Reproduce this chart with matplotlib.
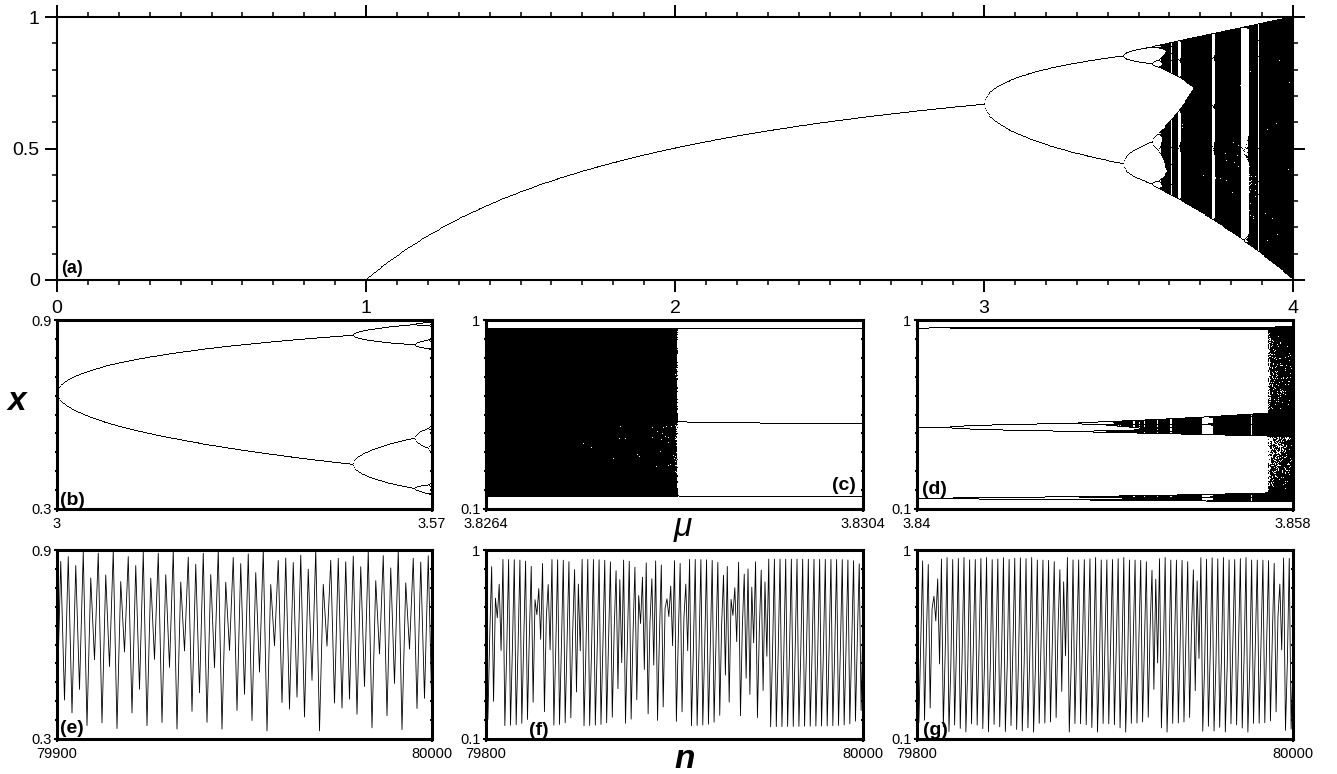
import numpy as np
import matplotlib.pyplot as plt
from matplotlib.ticker import MultipleLocator, FixedLocator

plt.rcParams['font.family'] = ['Liberation Sans', 'DejaVu Sans']

# logistic map x -> mu*x*(1-x); parameter windows
mu_a = [0.0, 4.0]
mu_b = [3.0, 3.57]
mu_c = [3.8264, 3.8304]
mu_d = [3.84, 3.858]
x_a = [0.0, 1.0]
x_b = [0.3, 0.9]
x_c = [0.1, 1.0]
x_d = [0.1, 1.0]

# time series panels: mu value and iterate window
mu_e, n_e, x_e = 3.6, [79900, 80000], [0.3, 0.9]
mu_f, n_f, x_f = 3.828, [79800, 80000], [0.1, 1.0]
mu_g, n_g, x_g = 3.857, [79800, 80000], [0.1, 1.0]

xticks_a = [0, 1, 2, 3, 4]
xlabels_a = ["0", "1", "2", "3", "4"]
yticks_a = [0, 0.5, 1]
ylabels_a = ["0", "0.5", "1"]

xlabels_b = ["3", "3.57"]
xlabels_c = ["3.8264", "3.8304"]
xlabels_d = ["3.84", "3.858"]
ylabels_b = ["0.3", "0.9"]
ylabels_c = ["0.1", "1"]
ylabels_d = ["0.1", "1"]
xlabels_e = ["79900", "80000"]
xlabels_f = ["79800", "80000"]
xlabels_g = ["79800", "80000"]
ylabels_e = ["0.3", "0.9"]
ylabels_f = ["0.1", "1"]
ylabels_g = ["0.1", "1"]


def bifurcation(mu_lim, n_mu, n_skip, n_keep):
    mu = np.linspace(mu_lim[0], mu_lim[1], n_mu)
    x = np.full(n_mu, 0.3)
    for _ in range(n_skip):
        x = mu * x * (1 - x)
    out = np.empty((n_keep, n_mu))
    for i in range(n_keep):
        x = mu * x * (1 - x)
        out[i] = x
    return np.tile(mu, n_keep), out.ravel()


def series(mu, n_lim):
    x = 0.3
    n_vals, x_vals = [], []
    for n in range(n_lim[1] + 1):
        if n >= n_lim[0]:
            n_vals.append(n)
            x_vals.append(x)
        x = mu * x * (1 - x)
    return n_vals, x_vals


W, H = 1337, 774
fig = plt.figure(figsize=(W / 100, H / 100), dpi=100)


def box(l, t, r, b):
    return [l / W, 1 - b / H, (r - l) / W, (b - t) / H]


# (a) full diagram
ax = fig.add_axes(box(57, 17, 1293, 280))
m, x = bifurcation(mu_a, 1300, 2000, 2500)
ax.plot(m, x, ',', color='k')
ax.set_xlim(mu_a)
ax.set_ylim(x_a)
ax.set_xticks(xticks_a, xlabels_a)
ax.set_yticks(yticks_a, ylabels_a)
ax.xaxis.set_minor_locator(MultipleLocator(0.1))
ax.yaxis.set_minor_locator(MultipleLocator(0.1))
ax.tick_params(which='both', direction='out', top=True, right=True)
ax.tick_params(which='major', length=8.5, width=1.4, labelsize=14)
ax.tick_params(axis='x', which='major', pad=6)
ax.tick_params(axis='y', which='major', pad=4)
ax.tick_params(which='minor', length=3.5, width=1.1)
for s in ax.spines.values():
    s.set_linewidth(1.5)
ax.text(0.003, 0.01, "(a)", transform=ax.transAxes, fontsize=13,
        fontweight='bold', ha='left', va='bottom')


def small_axes(rect, xlim, ylim, xlabels, ylabels, tag, tag_pos, tag_ha):
    a = fig.add_axes(rect)
    a.set_facecolor('none')
    a.set_xlim(xlim)
    a.set_ylim(ylim)
    a.set_xticks(xlim, xlabels)
    a.set_yticks(ylim, ylabels)
    a.yaxis.set_minor_locator(FixedLocator(np.linspace(ylim[0], ylim[1], 11)))
    a.tick_params(which='major', direction='out', length=2.5, width=1.5,
                  labelsize=10.5, pad=1.5)
    a.tick_params(axis='x', which='major', pad=3)
    a.tick_params(which='minor', direction='inout', length=2.5, width=1.5,
                  left=True, right=True)
    for s in a.spines.values():
        s.set_linewidth(2.2)
    a.text(tag_pos[0], tag_pos[1], tag, transform=a.transAxes, fontsize=14,
           fontweight='bold', ha=tag_ha, va='bottom')
    return a


ax_b = small_axes(box(57, 320, 432, 509), mu_b, x_b, xlabels_b, ylabels_b,
                  "(b)", (0.008, 0.0), 'left')
m, x = bifurcation(mu_b, 380, 6000, 64)
ax_b.plot(m, x, ',', color='k')

ax_c = small_axes(box(486, 320, 863, 509), mu_c, x_c, xlabels_c, ylabels_c,
                  "(c)", (0.98, 0.08), 'right')
m, x = bifurcation(mu_c, 380, 3000, 4000)
ax_c.plot(m, x, ',', color='k')

ax_d = small_axes(box(917, 320, 1293, 509), mu_d, x_d, xlabels_d, ylabels_d,
                  "(d)", (0.013, 0.06), 'left')
m, x = bifurcation(mu_d, 380, 3000, 2000)
ax_d.plot(m, x, ',', color='k')

ax_e = small_axes(box(57, 550, 432, 739), n_e, x_e, xlabels_e, ylabels_e,
                  "(e)", (0.008, 0.01), 'left')
n, x = series(mu_e, n_e)
ax_e.plot(n, x, color='k', lw=0.6)

ax_f = small_axes(box(486, 550, 863, 739), n_f, x_f, xlabels_f, ylabels_f,
                  "(f)", (0.115, 0.0), 'left')
n, x = series(mu_f, n_f)
ax_f.plot(n, x, color='k', lw=0.6)

ax_g = small_axes(box(917, 550, 1293, 739), n_g, x_g, xlabels_g, ylabels_g,
                  "(g)", (0.016, 0.0), 'left')
n, x = series(mu_g, n_g)
ax_g.plot(n, x, color='k', lw=0.6)

fig.text(17 / W, 1 - 402 / H, "x", fontsize=24, fontweight='bold',
         fontstyle='italic', ha='center', va='center')
fig.text(683 / W, 1 - 527 / H, "\u03bc", fontsize=24, fontstyle='italic',
         ha='center', va='center')
fig.text(685 / W, 1 - 760 / H, "n", fontsize=24, fontweight='bold',
         fontstyle='italic', ha='center', va='center')

fig.savefig("out.png", dpi=100)
